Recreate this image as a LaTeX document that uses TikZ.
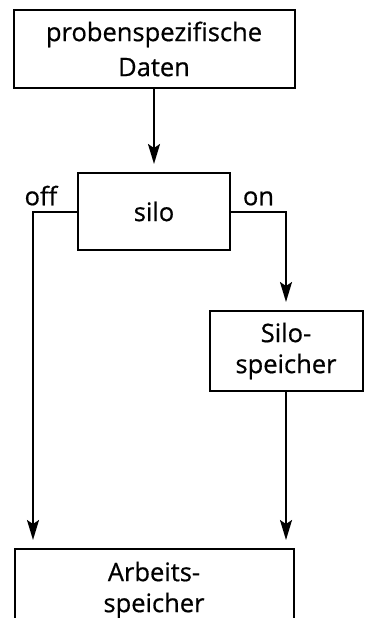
\documentclass[tikz,border=0pt]{standalone}
\usepackage{fontspec}
\setmainfont{Open Sans}[UprightFeatures={FakeBold=0.6}]
\usetikzlibrary{arrows.meta, positioning}

\begin{document}
\begin{tikzpicture}[
    x=1pt, y=1pt,
    font=\fontsize{25.5pt}{31pt}\selectfont,
    block/.style={rectangle, draw, line width=2pt, align=center, inner sep=0pt},
    arrow/.style={-{Stealth[length=20pt, width=12pt, inset=4pt]}, line width=2pt, shorten >=8pt},
    switch/.style={inner sep=1pt}
]
\useasboundingbox (0,0) rectangle (364,-618);
\clip (0,0) rectangle (364,-618);

\node[block, minimum width=281pt, minimum height=78pt, font=\fontsize{25.5pt}{35pt}\selectfont] (daten) at (154,-49) {probenspezifische\\Daten};
\node[block, minimum width=152pt, minimum height=77pt, below=83pt of daten] (silo) {silo};
\node[block, minimum width=153pt, minimum height=80pt, below=59pt of silo, xshift=132pt] (silospeicher) {Silo-\\speicher};
\node[block, minimum width=279pt, minimum height=82pt, below=297pt of silo] (arbeitsspeicher) {Arbeits-\\speicher};

\draw[arrow] (daten) -- (silo);
\draw[arrow] (silo.east) -| node[pos=0.25, above=4pt, switch]{on} (silospeicher);
\draw[arrow] (silo.west) -| node[pos=0.41, above=4pt, switch]{off} ([xshift=19.5pt]arbeitsspeicher.north west);
\draw[arrow] (silospeicher) -- (silospeicher |- arbeitsspeicher.north);
\end{tikzpicture}
\end{document}
